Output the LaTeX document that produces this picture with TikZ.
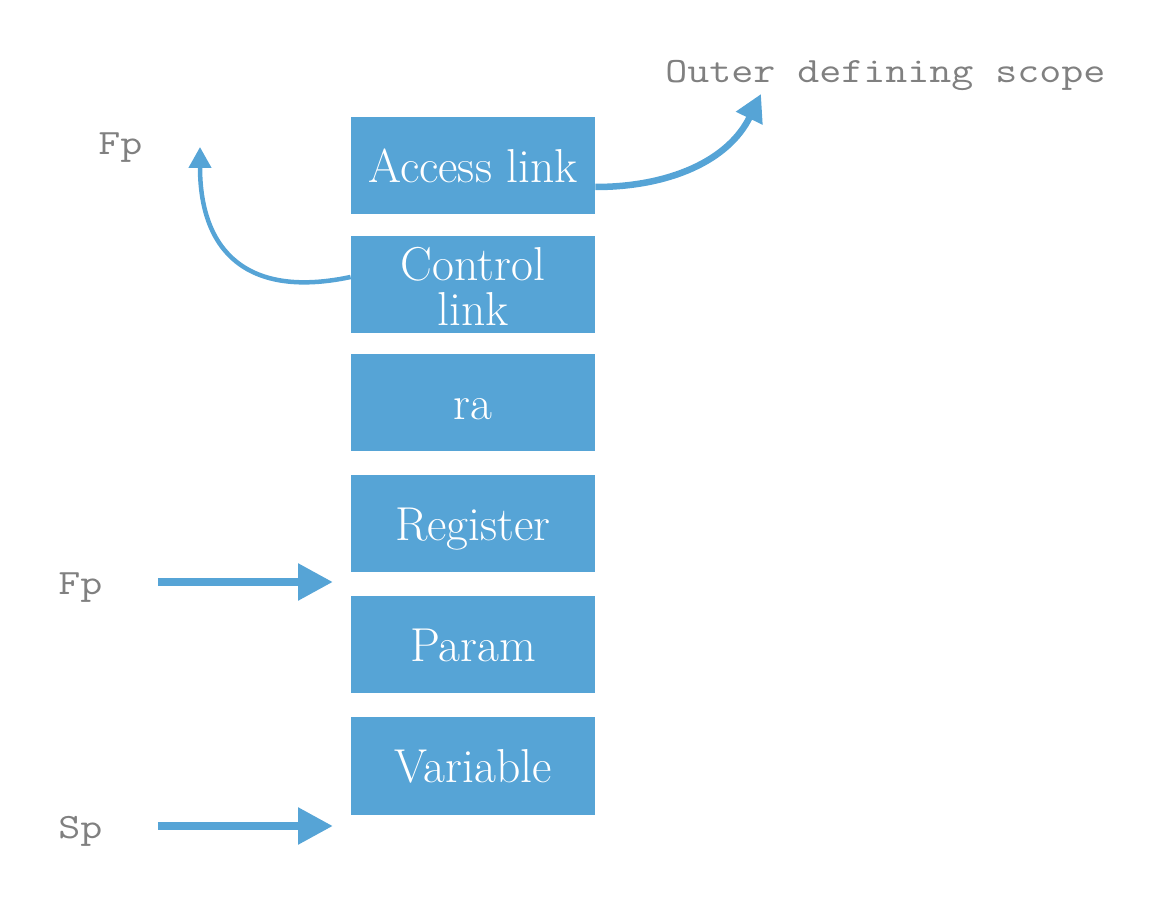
\documentclass[tikz,border=0pt]{standalone}
\usepackage{fontspec}
\setmonofont{Latin Modern Mono}[FakeStretch=1.2]
\usetikzlibrary{arrows.meta}
\definecolor{stackblue}{RGB}{86,164,214}
\definecolor{labgray}{RGB}{128,128,128}

\begin{document}
\begin{tikzpicture}[x=0.5pt,y=0.5pt,
	frame/.style={rectangle,fill=stackblue,text=white,minimum width=122pt,minimum height=48.5pt,inner sep=0pt,align=center,font=\fontsize{23.8}{22.5}\selectfont},
	slot/.style={frame,text height=16.5pt,text depth=0pt},
	reglab/.style={text=labgray,inner sep=0pt,anchor=base west,font=\fontsize{17.8}{20}\selectfont\ttfamily},
	ptr/.style={stackblue,line width=4.25pt,-{Triangle[length=17.5pt,width=17.5pt]}},
	link/.style={stackblue,line width=2.25pt,-{Triangle[length=10.5pt,width=11pt]}},
	outlink/.style={stackblue,line width=3.25pt,-{Triangle[length=13.5pt,width=14pt]}}]
	\useasboundingbox (0,0) rectangle (1174,-898);

	% the frame
	\node[slot] (acc) at (473,-166) {Access link};
	\node[frame,text height=41pt,text depth=0pt] (ctrl) at (473,-285) {Control\\link};
	\node[slot] (ra) at (473,-403) {ra};
	\node[slot] (reg) at (473,-524) {Register};
	\node[slot] (par) at (473,-645) {Param};
	\node[slot] (var) at (473,-766) {Variable};

	% pointer labels
	\node[reglab] (fptop) at (98,-155) {Fp};
	\node[reglab] (fp) at (58,-595) {Fp};
	\node[reglab] (sp) at (58,-838) {Sp};
	\node[reglab] (outer) at (665,-83) {Outer defining scope};

	\coordinate (fptip) at (333,-582);
	\coordinate (sptip) at (333,-826);
	\coordinate (oldfp) at (200,-147);
	\coordinate (outtip) at (761,-94);

	\draw[ptr,shorten <=27.5pt] (fp.east |- fptip) -- (fptip);
	\draw[ptr,shorten <=27.5pt] (sp.east |- sptip) -- (sptip);

	\draw[link] ([yshift=4pt]ctrl.west) to[out=192,in=-90,looseness=1.35] (oldfp);
	\draw[outlink] ([yshift=-10.5pt]acc.east) to[out=0,in=244] (outtip);
\end{tikzpicture}
\end{document}
